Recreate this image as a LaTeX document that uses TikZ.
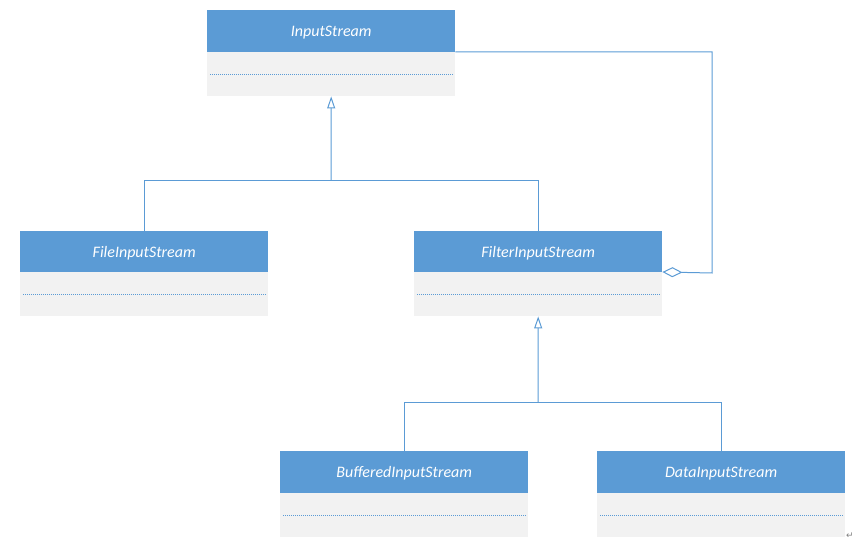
\documentclass[tikz,border=0pt]{standalone}
\usepackage{fontspec}
\setmainfont{Carlito}
\newfontfamily\symfont{DejaVu Sans}
\usetikzlibrary{arrows.meta}
\definecolor{hdr}{HTML}{5B9BD5}
\definecolor{bodyc}{HTML}{F2F2F2}
\definecolor{lnc}{HTML}{5B9BD5}
\tikzset{
  classhead/.style={rectangle, fill=hdr, draw=none, minimum width=248pt, minimum height=42pt,
    anchor=north west, inner sep=0pt, text=white, text depth=-1pt, font=\fontsize{16}{18}\selectfont\itshape},
  classbody/.style={rectangle, fill=bodyc, draw=none, minimum width=248pt, minimum height=44pt,
    anchor=north west, inner sep=0pt},
  sepline/.style={draw=lnc, dash pattern=on 1pt off 1pt, line width=0.8pt},
  conn/.style={draw=lnc, line width=1pt},
  inh/.style={conn, -{Triangle[open, length=12pt, width=8pt, fill=white]}},
  agg/.style={conn, {Diamond[open, length=20pt, width=10pt, fill=white]}-}
}
\begin{document}
\begin{tikzpicture}[x=1pt, y=-1pt]
\useasboundingbox (0,0) rectangle (855,548);
% classes
\node[classhead] (ih) at (207,10) {InputStream};
\node[classbody] (ib) at (207,52) {};
\node[classhead] (fh) at (20,231) {FileInputStream};
\node[classbody] (fb) at (20,272) {};
\node[classhead] (lh) at (414,231) {FilterInputStream};
\node[classbody] (lb) at (414,272) {};
\node[classhead] (bh) at (280,451) {BufferedInputStream};
\node[classbody] (bb) at (280,493) {};
\node[classhead] (dh) at (597,451) {DataInputStream};
\node[classbody] (db) at (597,493) {};
% separator lines
\foreach \b in {ib,fb,lb,bb,db}{
  \draw[sepline] ([xshift=3pt]\b.west) -- ([xshift=-3pt]\b.east);
}
% inheritance InputStream
\coordinate (j1) at (331,181);
\draw[conn] (fh.north) |- (j1);
\draw[conn] (lh.north) |- (j1);
\draw[inh] (j1) -- (ib.south);
% inheritance FilterInputStream
\coordinate (j2) at (538,402);
\draw[conn] (bh.north) |- (j2);
\draw[conn] (dh.north) |- (j2);
\draw[inh] (j2) -- (lb.south);
% aggregation
\coordinate (a1) at (712,273);
\draw[agg] (lb.north east) -- (a1) |- (ib.north east);
% paragraph mark
\node[font=\symfont\fontsize{9}{10}\selectfont, text=gray, inner sep=0pt] (pm) at (850,536) {↵};
\end{tikzpicture}
\end{document}
